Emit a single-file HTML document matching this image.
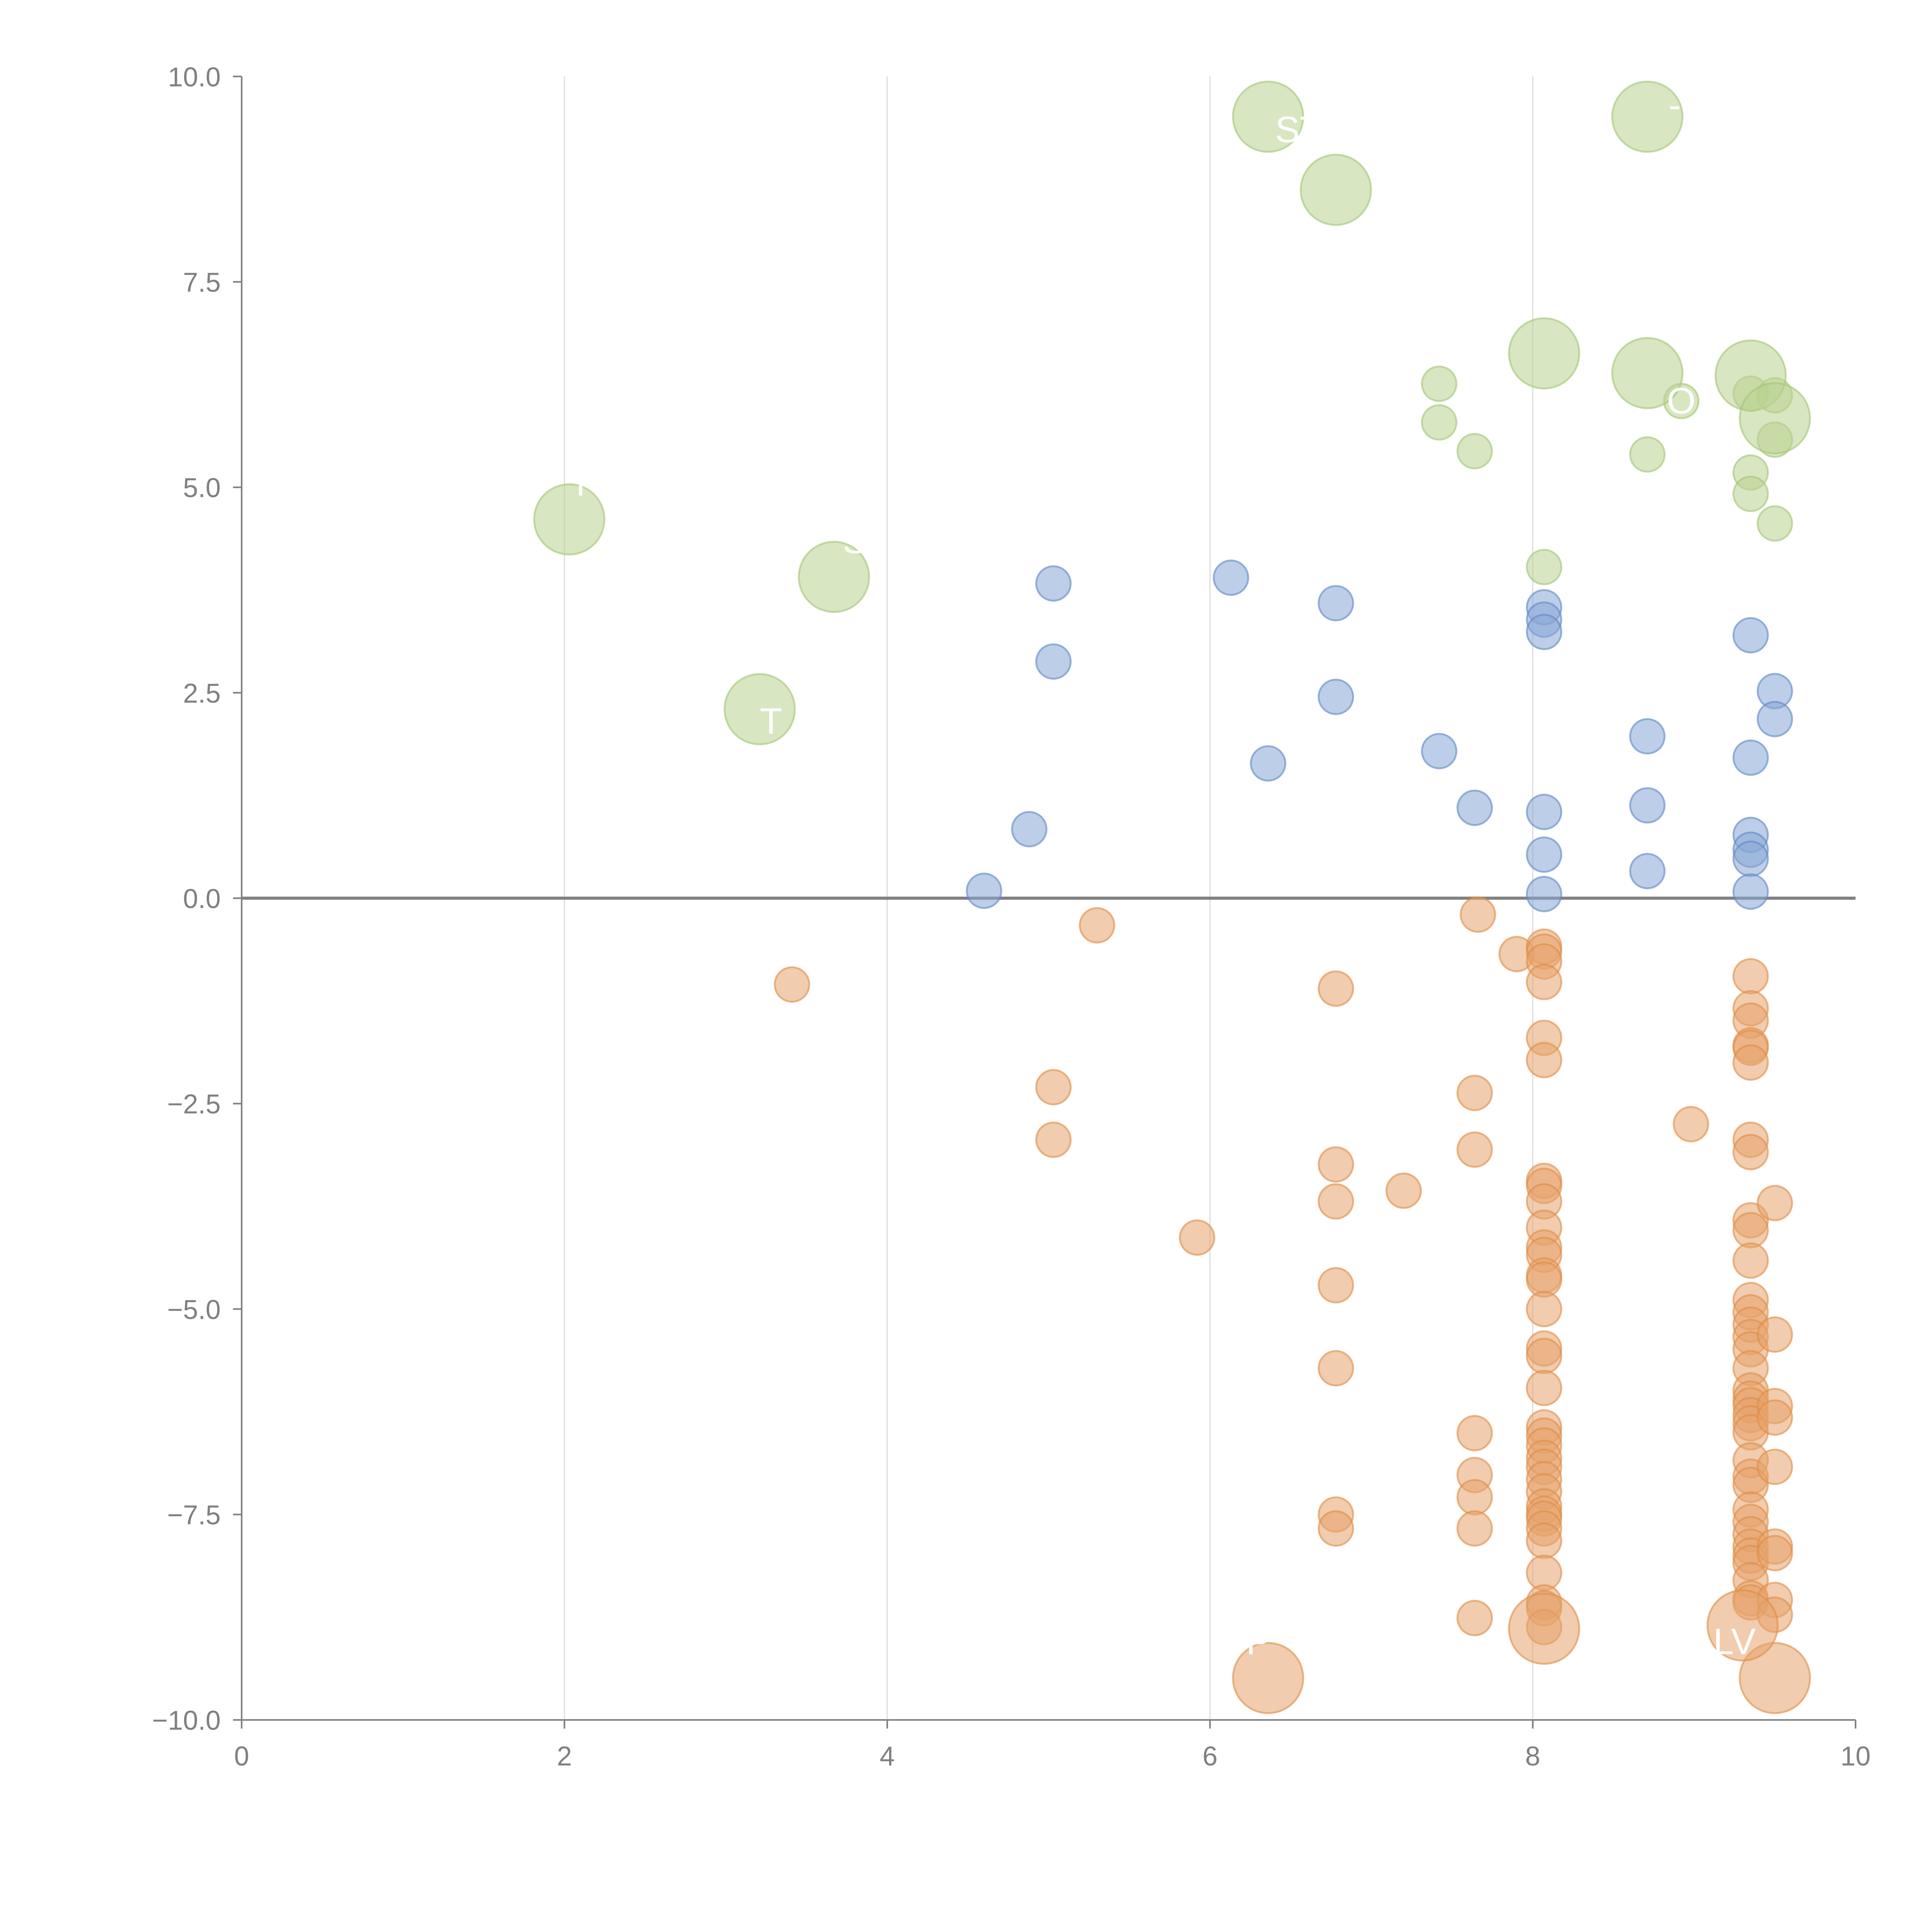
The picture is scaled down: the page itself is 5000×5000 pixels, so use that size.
<!DOCTYPE html>
<html><head><meta charset="utf-8">
<style>
html,body{margin:0;padding:0;background:#fff;}
svg{display:block;}
text{font-family:"Liberation Sans",Arial,sans-serif;}
</style></head>
<body>
<svg id="chart" width="5000" height="5000" viewBox="0 0 1567 1567" xmlns="http://www.w3.org/2000/svg">
<g id="grid"></g>
<g id="axes"></g>
<g id="marks"></g>
<g id="labels"></g>
</svg>
<script>
const xTicks = [0, 2, 4, 6, 8, 10];
const yTicks = [10, 7.5, 5, 2.5, 0, -2.5, -5, -7.5, -10];
const yTickLabels = ["10.0", "7.5", "5.0", "2.5", "0.0", "\u22122.5", "\u22125.0", "\u22127.5", "\u221210.0"];
const gridX = [2, 4, 6, 8];

const greenX = [7.42, 7.42, 7.64, 8.07, 8.92, 8.71, 9.35, 9.35, 9.50, 9.35, 9.50, 9.50, 2.03, 3.67, 3.21, 6.36, 6.78, 8.71, 8.07, 8.71, 9.35, 9.50];
const greenY = [6.26, 5.79, 5.44, 4.03, 6.05, 5.40, 5.18, 4.92, 4.56, 6.14, 6.12, 5.58, 4.61, 3.91, 2.30, 9.51, 8.62, 9.51, 6.63, 6.39, 6.36, 5.84];
const greenSize = [1,1,1,1,1,1,1,1,1,1,1,1,4,4,4,4,4,4,4,4,4,4];

const blueX = [5.03, 5.03, 6.13, 6.78, 6.78, 6.36, 4.88, 4.60, 7.42, 7.64, 8.07, 8.07, 8.07, 8.07, 8.07, 8.07, 8.71, 8.71, 8.71, 9.35, 9.50, 9.50, 9.35, 9.35, 9.35, 9.35, 9.35];
const blueY = [3.83, 2.88, 3.90, 3.59, 2.45, 1.64, 0.84, 0.09, 1.79, 1.10, 3.54, 3.39, 3.24, 1.05, 0.53, 0.05, 1.97, 1.13, 0.33, 3.20, 2.52, 2.18, 1.71, 0.77, 0.59, 0.48, 0.08];

const orangeX = [3.41, 5.30, 5.03, 5.03, 5.92, 6.78, 6.78, 6.78, 6.78, 6.78, 6.78, 6.78, 7.20, 7.66, 7.90, 7.64, 7.64, 7.64, 7.64, 7.64, 7.64, 7.64, 8.98,
 8.07,8.07,8.07,8.07,8.07,8.07,8.07,8.07,8.07,8.07,8.07,8.07,8.07,8.07,8.07,8.07,8.07,8.07,8.07,8.07,8.07,8.07,8.07,8.07,8.07,8.07,8.07,8.07,8.07,8.07,8.07,8.07,8.07,8.07,
 9.35,9.35,9.35,9.35,9.35,9.35,9.35,9.35,9.35,9.35,9.35,9.35,9.35,9.35,9.35,9.35,9.35,9.35,9.35,9.35,9.35,9.35,9.35,9.35,9.35,9.35,9.35,9.35,9.35,9.35,9.35,9.35,9.35,9.35,9.35,
 9.50,9.50,9.50,9.50,9.50,9.50,9.50,9.50,9.50,
 6.36, 9.50, 8.07, 9.30];
const orangeY = [-1.05, -0.33, -2.30, -2.94, -4.13, -1.10, -3.24, -3.69, -4.71, -5.72, -7.50, -7.67, -3.56, -0.20, -0.68, -2.37, -3.06, -6.51, -7.02, -7.29, -7.67, -8.76, -2.75,
 -0.59,-0.65,-0.77,-1.02,-1.70,-1.97,-3.44,-3.50,-3.69,-4.01,-4.25,-4.34,-4.59,-4.64,-5.00,-5.48,-5.57,-5.96,-6.44,-6.54,-6.66,-6.81,-6.92,-7.07,-7.22,-7.40,-7.49,-7.55,-7.67,-7.82,-8.21,-8.57,-8.64,-8.87,
 -0.95,-1.34,-1.49,-1.79,-1.82,-2.00,-2.94,-3.09,-3.92,-4.04,-4.41,-4.89,-5.04,-5.19,-5.34,-5.49,-5.72,-5.99,-6.09,-6.17,-6.29,-6.39,-6.50,-6.84,-7.04,-7.14,-7.44,-7.59,-7.74,-7.89,-8.00,-8.09,-8.30,-8.52,-8.57,
 -3.71,-5.31,-6.18,-6.32,-6.92,-7.89,-7.97,-8.54,-8.72,
 -9.49, -9.49, -8.89, -8.85];
const orangeSize = orangeX.map((_, i) => i >= orangeX.length - 4 ? 4 : 1);

const labelText = ["ST", "-F", "O", "LV", "T", "S", "I", "P"];
const labelX = [6.55, 8.95, 8.92, 9.25, 3.28, 3.80, 2.10, 6.30];
const labelY = [9.20, 9.50, 5.90, -9.20, 2.00, 4.20, 4.90, -9.20];

const NS = "http://www.w3.org/2000/svg";
const X0 = 196, X1 = 1505, Y0 = 62, Y1 = 1395;
function sx(v) { return X0 + (v - 0) / 10 * (X1 - X0); }
function sy(v) { return Y0 + (10 - v) / 20 * (Y1 - Y0); }
function sr(s) { return s >= 4 ? 28.5 : 14; }
function mk(tag, attrs, parent) {
  const e = document.createElementNS(NS, tag);
  for (const k in attrs) e.setAttribute(k, attrs[k]);
  parent.appendChild(e);
  return e;
}
const grid = document.getElementById('grid');
const axes = document.getElementById('axes');
const marks = document.getElementById('marks');
const labels = document.getElementById('labels');

gridX.forEach(v => {
  const l = mk('line', {x1: sx(v), x2: sx(v), y1: Y0, y2: Y1, stroke: '#dedede', 'stroke-width': 1}, grid);
  
  
});

const yAxis = mk('line', {x1: X0, x2: X0, y1: Y0, y2: Y1, stroke: '#808080', 'stroke-width': 1.3}, axes);


const xAxis = mk('line', {x1: X0, x2: X1, y1: Y1, y2: Y1, stroke: '#808080', 'stroke-width': 1.3}, axes);



xTicks.forEach(v => {
  const t = mk('line', {x1: sx(v), x2: sx(v), y1: Y1, y2: Y1 + 7, stroke: '#808080', 'stroke-width': 1.3}, axes);
  
  
  const tx = mk('text', {x: sx(v), y: Y1 + 37, 'text-anchor': 'middle', 'font-size': 22, fill: '#808080'}, axes);
  tx.textContent = String(v);
  
  
});
yTicks.forEach((v, i) => {
  const t = mk('line', {x1: X0 - 7, x2: X0, y1: sy(v), y2: sy(v), stroke: '#808080', 'stroke-width': 1.3}, axes);
  
  
  const tx = mk('text', {x: X0 - 17, y: sy(v) + 8, 'text-anchor': 'end', 'font-size': 22, fill: '#808080'}, axes);
  tx.textContent = yTickLabels[i];
  
  
});
const zl = mk('line', {x1: X0, x2: X1, y1: sy(0), y2: sy(0), stroke: '#808080', 'stroke-width': 2.5}, axes);



function drawSeries(xs, ys, sizes, fill, stroke, name) {
  const g = mk('g', {}, marks);
  
  
  xs.forEach((v, i) => {
    const c = mk('circle', {cx: sx(v), cy: sy(ys[i]), r: sr(sizes[i]), fill: fill, 'fill-opacity': 0.55, stroke: stroke, 'stroke-opacity': 0.6, 'stroke-width': 1.5}, g);
    
    
  });
}
drawSeries(orangeX, orangeY, orangeSize, '#e6a26c', '#e08c45', 'orange');
drawSeries(blueX, blueY, blueX.map(() => 1), '#86a6d6', '#5f87c4', 'blue');
drawSeries(greenX, greenY, greenSize, '#b9d28f', '#a2c474', 'green');

labelText.forEach((s, i) => {
  const t = mk('text', {x: sx(labelX[i]), y: sy(labelY[i]), 'text-anchor': 'middle', 'font-size': 30, fill: '#ffffff'}, labels);
  t.textContent = s;
  
  
});
</script>
</body></html>
